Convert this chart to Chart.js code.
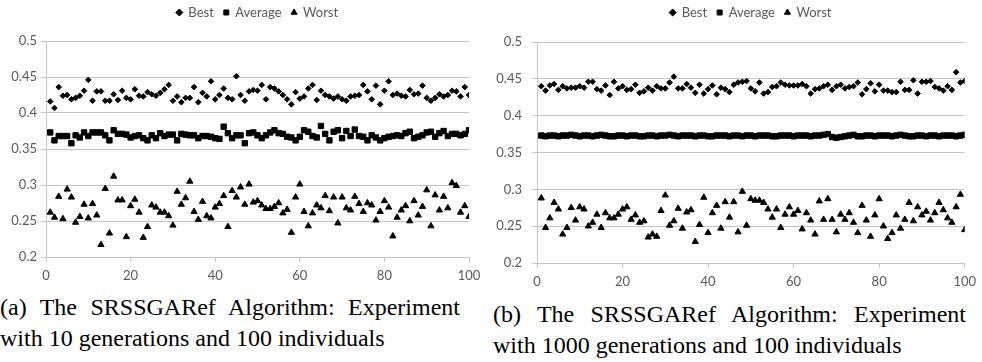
<!DOCTYPE html>
<html lang="en">
<head>
    <meta charset="UTF-8">
    <title>SRSSGARef Algorithm</title>
    <style>
        body { margin: 0; background: #fff; width: 982px; height: 362px; position: relative; overflow: hidden; }
        .chart-box { position: absolute; }
        .caption { position: absolute; font-family: "Liberation Serif", "Times New Roman", serif; font-size: 24px; line-height: 31px; color: #000; }
        .caption .first { text-align: justify; text-align-last: justify; }
    </style>
</head>
<body>
    <!-- (a) 10 generations -->
    <div class="chart-box" style="left:0;top:-4px;width:491px;height:296px"><canvas id="chartA"></canvas></div>
    <!-- (b) 1000 generations -->
    <div class="chart-box" style="left:491px;top:-4px;width:491px;height:302px"><canvas id="chartB"></canvas></div>

    <div class="caption" style="left:0;top:292px;width:460px">
        <div class="first">(a) The SRSSGARef Algorithm: Experiment</div>
        <div>with 10 generations and 100 individuals</div>
    </div>
    <div class="caption" style="left:493px;top:299px;width:473px">
        <div class="first">(b) The SRSSGARef Algorithm: Experiment</div>
        <div>with 1000 generations and 100 individuals</div>
    </div>

    <script src="https://cdn.jsdelivr.net/npm/chart.js"></script>
    <script>
        const seriesNames = ['Best', 'Average', 'Worst'];
        const xTickLabels = ['0', '20', '40', '60', '80', '100'];
        const yTickLabels = ['0.2', '0.25', '0.3', '0.35', '0.4', '0.45', '0.5'];
        // individual number 1..100
        const individuals = Array.from({ length: 100 }, (_, i) => i + 1);

        // (a) 10 generations
        const bestA = [0.416,0.407,0.436,0.424,0.425,0.419,0.421,0.424,0.431,0.446,
            0.417,0.430,0.430,0.417,0.417,0.426,0.418,0.431,0.421,0.419,
            0.433,0.424,0.423,0.429,0.426,0.424,0.428,0.433,0.439,0.417,
            0.423,0.415,0.421,0.421,0.436,0.415,0.428,0.423,0.444,0.419,
            0.425,0.434,0.421,0.419,0.451,0.425,0.417,0.430,0.432,0.431,
            0.439,0.419,0.436,0.434,0.430,0.425,0.419,0.412,0.429,0.420,
            0.423,0.434,0.439,0.418,0.431,0.425,0.423,0.420,0.423,0.419,
            0.417,0.423,0.424,0.425,0.439,0.430,0.419,0.438,0.412,0.431,
            0.444,0.425,0.427,0.424,0.423,0.432,0.426,0.427,0.438,0.421,
            0.417,0.421,0.426,0.423,0.425,0.431,0.430,0.423,0.436,0.425];
        const averageA = [0.373,0.362,0.368,0.368,0.368,0.358,0.369,0.366,0.373,0.368,
            0.373,0.373,0.373,0.369,0.362,0.376,0.371,0.371,0.370,0.366,
            0.368,0.369,0.365,0.362,0.369,0.365,0.372,0.368,0.370,0.370,
            0.362,0.371,0.370,0.369,0.369,0.365,0.368,0.368,0.367,0.365,
            0.364,0.381,0.372,0.365,0.369,0.369,0.358,0.372,0.373,0.369,
            0.365,0.369,0.373,0.376,0.372,0.371,0.367,0.366,0.362,0.367,
            0.376,0.374,0.368,0.366,0.382,0.371,0.362,0.374,0.376,0.365,
            0.375,0.368,0.377,0.368,0.367,0.362,0.369,0.366,0.362,0.365,
            0.367,0.368,0.369,0.368,0.372,0.374,0.365,0.367,0.369,0.373,
            0.374,0.367,0.372,0.375,0.368,0.371,0.371,0.369,0.371,0.376];
        const worstA = [0.262,0.255,0.284,0.253,0.294,0.283,0.248,0.256,0.273,0.254,
            0.274,0.258,0.217,0.295,0.233,0.312,0.279,0.279,0.228,0.271,
            0.280,0.262,0.227,0.242,0.272,0.269,0.262,0.262,0.257,0.244,
            0.291,0.273,0.282,0.305,0.263,0.252,0.277,0.257,0.254,0.269,
            0.274,0.285,0.242,0.292,0.283,0.297,0.273,0.301,0.276,0.278,
            0.272,0.267,0.267,0.270,0.275,0.261,0.266,0.234,0.283,0.301,
            0.263,0.243,0.261,0.272,0.268,0.285,0.264,0.283,0.247,0.283,
            0.268,0.265,0.284,0.274,0.263,0.275,0.272,0.251,0.263,0.278,
            0.269,0.229,0.255,0.265,0.271,0.250,0.278,0.258,0.270,0.293,
            0.243,0.286,0.265,0.284,0.268,0.303,0.299,0.262,0.271,0.256];

        // (b) 1000 generations
        const bestB = [0.440,0.434,0.441,0.443,0.435,0.440,0.437,0.438,0.438,0.440,
            0.438,0.446,0.446,0.436,0.434,0.441,0.428,0.446,0.437,0.440,
            0.435,0.436,0.442,0.431,0.433,0.438,0.434,0.440,0.437,0.437,
            0.445,0.453,0.437,0.437,0.443,0.438,0.431,0.442,0.430,0.436,
            0.441,0.429,0.438,0.436,0.432,0.442,0.445,0.446,0.447,0.437,
            0.433,0.445,0.430,0.432,0.439,0.440,0.445,0.442,0.441,0.441,
            0.441,0.443,0.440,0.430,0.436,0.437,0.440,0.442,0.435,0.440,
            0.442,0.437,0.439,0.440,0.445,0.429,0.436,0.444,0.433,0.442,
            0.434,0.434,0.432,0.432,0.446,0.435,0.435,0.448,0.430,0.446,
            0.446,0.447,0.439,0.437,0.434,0.440,0.435,0.459,0.445,0.447];
        const averageB = [0.373,0.372,0.373,0.373,0.372,0.373,0.373,0.374,0.373,0.372,
            0.373,0.373,0.372,0.373,0.374,0.373,0.372,0.372,0.373,0.373,
            0.372,0.373,0.373,0.372,0.372,0.373,0.373,0.372,0.373,0.373,
            0.374,0.373,0.372,0.373,0.373,0.373,0.372,0.373,0.373,0.372,
            0.372,0.373,0.373,0.373,0.372,0.373,0.373,0.372,0.373,0.373,
            0.372,0.373,0.373,0.373,0.372,0.372,0.373,0.373,0.373,0.372,
            0.373,0.373,0.373,0.372,0.373,0.373,0.374,0.375,0.371,0.370,
            0.371,0.372,0.373,0.374,0.372,0.372,0.373,0.373,0.372,0.373,
            0.373,0.373,0.372,0.373,0.374,0.373,0.372,0.372,0.373,0.373,
            0.372,0.373,0.373,0.372,0.373,0.373,0.373,0.372,0.373,0.374];
        const worstB = [0.288,0.248,0.261,0.282,0.273,0.239,0.248,0.275,0.258,0.276,
            0.273,0.250,0.255,0.266,0.248,0.268,0.261,0.261,0.266,0.273,
            0.276,0.259,0.265,0.255,0.257,0.235,0.239,0.236,0.271,0.292,
            0.251,0.257,0.274,0.247,0.269,0.272,0.229,0.252,0.289,0.241,
            0.268,0.278,0.247,0.283,0.262,0.283,0.242,0.297,0.251,0.287,
            0.285,0.285,0.282,0.273,0.262,0.273,0.248,0.266,0.276,0.266,
            0.271,0.246,0.268,0.258,0.239,0.284,0.259,0.287,0.259,0.242,
            0.266,0.259,0.268,0.255,0.241,0.278,0.258,0.236,0.265,0.287,
            0.250,0.233,0.241,0.265,0.247,0.259,0.282,0.257,0.276,0.265,
            0.270,0.258,0.268,0.282,0.272,0.261,0.255,0.276,0.293,0.245];

        const textColor = '#595959';
        const gridColor = '#c4c4c4';
        const tickFont = { family: 'Lato', size: 13 };

        function toPoints(values) {
            return values.map((v, i) => ({ x: individuals[i], y: v }));
        }

        // legend height is forced so the plot area starts where it does in the original
        function fixLegendHeight(h) {
            return {
                id: 'fixLegendHeight',
                beforeInit(chart) {
                    const fit = chart.legend.fit;
                    chart.legend.fit = function () {
                        fit.call(this);
                        this.height = h;
                    };
                }
            };
        }

        function buildChart(canvasId, best, average, worst, box) {
            const ctx = document.getElementById(canvasId).getContext('2d');
            return new Chart(ctx, {
                type: 'scatter',
                data: {
                    datasets: [
                        { label: seriesNames[0], data: toPoints(best), pointStyle: 'rectRot', pointRadius: 2.8,
                          backgroundColor: '#000', borderColor: '#000', borderWidth: 1 },
                        { label: seriesNames[1], data: toPoints(average), pointStyle: 'rect', pointRadius: 3.8,
                          backgroundColor: '#000', borderColor: '#000', borderWidth: 1 },
                        { label: seriesNames[2], data: toPoints(worst), pointStyle: 'triangle', pointRadius: 3.6,
                          backgroundColor: '#000', borderColor: '#000', borderWidth: 1 }
                    ]
                },
                options: {
                    responsive: true,
                    maintainAspectRatio: false,
                    animation: false,
                    layout: { padding: { left: 0, right: box.right, top: 0, bottom: 0 } },
                    plugins: {
                        tooltip: { enabled: false },
                        legend: {
                            display: true,
                            position: 'top',
                            fullSize: false,
                            labels: {
                                usePointStyle: true,
                                boxWidth: 5,
                                boxHeight: 5,
                                padding: 10,
                                color: textColor,
                                font: { family: 'Lato', size: 13 }
                            }
                        }
                    },
                    scales: {
                        x: {
                            type: 'linear',
                            min: 0,
                            max: 100,
                            afterFit: (scale) => { scale.height = 35; },
                            grid: { drawOnChartArea: false, drawTicks: true, tickLength: 5, color: gridColor },
                            border: { display: true, color: gridColor },
                            ticks: {
                                stepSize: 20,
                                padding: 6,
                                color: textColor,
                                font: tickFont,
                                maxRotation: 0,
                                callback: (v, i) => xTickLabels[i]
                            }
                        },
                        y: {
                            min: 0.2,
                            max: 0.5,
                            afterFit: (scale) => { scale.width = 46; },
                            grid: { color: gridColor, tickLength: 5 },
                            border: { display: true, color: gridColor },
                            ticks: {
                                stepSize: 0.05,
                                padding: box.yPad,
                                color: textColor,
                                font: tickFont,
                                callback: (v, i) => yTickLabels[i]
                            }
                        }
                    }
                },
                plugins: [fixLegendHeight(box.top)]
            });
        }

        buildChart('chartA', bestA, averageA, worstA, { top: 45, right: 22, yPad: 4 });
        buildChart('chartB', bestB, averageB, worstB, { top: 46, right: 16, yPad: 10 });
    </script>
</body>
</html>
